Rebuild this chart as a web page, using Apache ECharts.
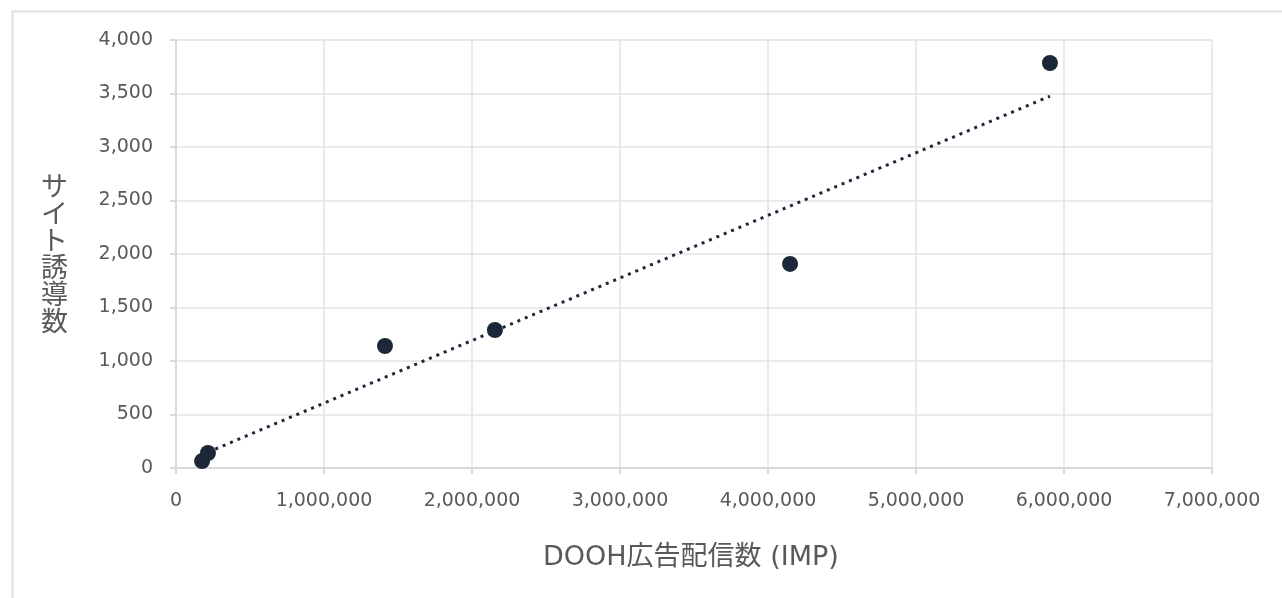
<!DOCTYPE html>
<html><head><meta charset="utf-8">
<script src="https://cdn.jsdelivr.net/npm/echarts@6/dist/echarts.min.js"></script>
<style>html,body{margin:0;padding:0;background:#fff}#c{width:1282px;height:598px}</style>
</head><body><div id="c"></div>
<script>
// Data
const impressions = [176000, 216000, 1412000, 2155000, 4149000, 5905000];
const visits = [65, 140, 1140, 1290, 1907, 3785];
// Trendline endpoints
const trendX = [216000, 5905000];
const trendY = [148, 3475];
const xTitle = 'DOOH広告配信数 (IMP)';
const yTitle = ['サ','イ','ト','誘','導','数'];

const pts = impressions.map((v, i) => [v, visits[i]]);
const trend = trendX.map((v, i) => [v, trendY[i]]);
const fmt = v => v.toLocaleString('en-US');
const font = '"DejaVu Sans", "Noto Sans CJK JP", sans-serif';
const chart = echarts.init(document.getElementById('c'));
chart.setOption({
  animation: false,
  grid: { left: 176, right: 70, top: 40, bottom: 130 },
  xAxis: {
    type: 'value', min: 0, max: 7000000, interval: 1000000,
    axisLine: { show: true, lineStyle: { color: '#d9d9d9', width: 2 } },
    axisTick: { show: true, length: 6, lineStyle: { color: '#d9d9d9', width: 2 } },
    splitLine: { lineStyle: { color: '#e3e3e3', width: 1.5 } },
    axisLabel: { color: '#595959', fontSize: 19, fontFamily: font, margin: 24, formatter: fmt }
  },
  yAxis: {
    type: 'value', min: 0, max: 4000, interval: 500,
    axisLine: { show: true, lineStyle: { color: '#d9d9d9', width: 2 } },
    axisTick: { show: true, length: 6, lineStyle: { color: '#d9d9d9', width: 2 } },
    splitLine: { lineStyle: { color: '#e3e3e3', width: 1.5 } },
    axisLabel: { color: '#595959', fontSize: 19, fontFamily: font, margin: 23, formatter: fmt }
  },
  graphic: [
    { type: 'rect', left: 10, top: 9, shape: { width: 1300, height: 620 }, style: { fill: 'none', stroke: '#e0e0e0', lineWidth: 2 }, silent: true, z: -1 },
    { type: 'text', left: 41, top: 172, style: { text: yTitle.join('\n'), font: '27px "Noto Sans CJK JP", sans-serif', fill: '#595959', lineHeight: 27 } },
    { type: 'text', left: 543, top: 544, style: { text: xTitle, font: '27px ' + font, fill: '#595959' } }
  ],
  series: [
    { type: 'line', data: trend, symbol: 'none', lineStyle: { color: '#1c2838', width: 3, type: [3, 5] }, z: 2 },
    { type: 'scatter', data: pts, symbolSize: 16, itemStyle: { color: '#1c2838', opacity: 1 }, z: 3 }
  ]
});
</script></body></html>
